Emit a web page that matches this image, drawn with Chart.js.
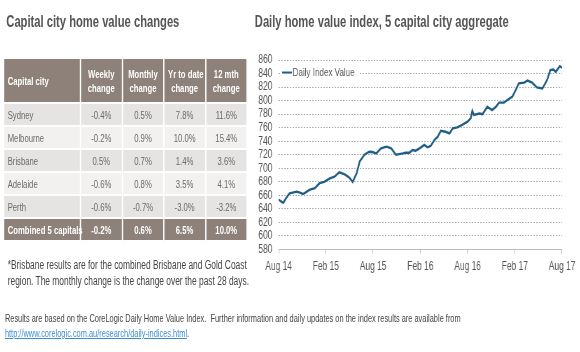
<!DOCTYPE html>
<html>
<head>
<meta charset="utf-8">
<title>Capital city home value changes</title>
<script src="https://cdn.jsdelivr.net/npm/chart.js@4"></script>
<style>
    body {
        margin: 0;
        width: 580px;
        height: 352px;
        position: relative;
        background: #fff;
        overflow: hidden;
    }

    /* the source picture is squeezed sideways, so lay out wide and squeeze the lot */
    .page {
        position: absolute;
        left: 0;
        top: 0;
        width: 829px;
        height: 352px;
        transform: scaleX(0.7);
        transform-origin: 0 0;
        font-family: 'Liberation Sans', Arial, sans-serif;
        color: #555;
    }

    .title {
        position: absolute;
        top: 13px;
        font-size: 16px;
        font-weight: bold;
        color: #555;
        white-space: nowrap;
    }

    .table_city {
        position: absolute;
        left: 4px;
        top: 57px;
        width: 350px;
        border-collapse: collapse;
        table-layout: fixed;
        font-size: 11px;
    }

    .table_city th,
    .table_city td {
        border: 2px solid #fff;
        padding: 0 5px;
        text-align: center;
        white-space: nowrap;
    }

    .table_city th {
        background: #8d8179;
        color: #fff;
        height: 43px;
        line-height: 14px;
    }

    .table_city td {
        height: 21px;
        color: #6a6a6a;
    }

    .table_city tr:nth-child(odd) td { background: #e5e4e2; }
    .table_city tr:nth-child(even) td { background: #f2f1f0; }

    .table_city .first { text-align: left; }

    .table_city tr.total td {
        background: #8d8179;
        color: #fff;
        font-weight: bold;
    }

    .note {
        position: absolute;
        left: 11px;
        top: 257px;
        font-size: 12px;
        line-height: 16px;
        color: #444;
        white-space: nowrap;
    }

    .source {
        position: absolute;
        left: 7px;
        top: 311px;
        font-size: 10.6px;
        line-height: 15px;
        color: #444;
        white-space: nowrap;
    }

    .source a { color: #3d8fd0; }

    .chart-wrapper {
        position: absolute;
        left: 357px;
        top: 40px;
        width: 471px;
        height: 275px;
    }
</style>
</head>
<body>
<div class="page">
    <div class="title" style="left:9px">Capital city home value changes</div>
    <div class="title" style="left:364px">Daily home value index, 5 capital city aggregate</div>

    <table class="table_city" id="cities">
        <colgroup>
            <col style="width:110px"><col><col><col><col>
        </colgroup>
        <thead>
            <tr>
                <th class="first">Capital city</th>
                <th>Weekly<br>change</th>
                <th>Monthly<br>change</th>
                <th>Yr to date<br>change</th>
                <th>12 mth<br>change</th>
            </tr>
        </thead>
        <tbody></tbody>
    </table>

    <div class="note">*Brisbane results are for the combined Brisbane and Gold Coast<br>region. The monthly change is the change over the past 28 days.</div>

    <div class="source">Results are based on the CoreLogic Daily Home Value Index.&nbsp; Further information and daily updates on the index results are available from<br><a href="#">http://www.corelogic.com.au/research/daily-indices.html</a>.</div>

    <div class="chart-wrapper"><canvas id="myChart"></canvas></div>
</div>

<script type="text/javascript">
    // table data
    let cities = ['Sydney', 'Melbourne', 'Brisbane', 'Adelaide', 'Perth', 'Combined 5 capitals'];
    let weekly = ['-0.4%', '-0.2%', '0.5%', '-0.6%', '-0.6%', '-0.2%'];
    let monthly = ['0.5%', '0.9%', '0.7%', '0.8%', '-0.7%', '0.6%'];
    let yearToDate = ['7.8%', '10.0%', '1.4%', '3.5%', '-3.0%', '6.5%'];
    let twelveMonth = ['11.6%', '15.4%', '3.6%', '4.1%', '-3.2%', '10.0%'];

    // index series, months counted from Aug 14
    let months = [0, 0.3, 0.6, 0.9, 1.2, 1.4, 2.3, 2.7, 3.1, 3.4, 3.9, 4.6, 5.2, 5.8, 6.5, 7.1, 7.7, 8.4, 9.0, 9.4,
        9.9, 10.3, 10.9, 11.5, 11.9, 12.4, 13.0, 13.7, 14.3, 14.9, 15.3, 15.8, 16.1, 16.6, 17.0, 17.4, 17.9,
        18.5, 18.9, 19.3, 19.8, 20.2, 20.6, 21.2, 21.7, 22.1, 22.7, 23.3, 24.0, 24.4, 24.6, 24.8, 25.5, 25.9,
        26.5, 27.1, 27.6, 28.0, 28.6, 29.3, 29.7, 30.1, 30.5, 31.2, 31.6, 32.2, 32.8, 33.5, 34.1, 34.5, 34.9,
        35.2, 35.7, 36.0];
    let indexValues = [654, 651, 649, 655, 660, 663, 665.5, 664, 662, 664, 668, 670.5, 678, 680, 685, 687.5, 694, 691, 686, 680,
        692.5, 710, 720, 724.5, 724, 722, 729.5, 732, 729.5, 720, 721, 722, 723, 723, 727, 726, 729.5,
        734.5, 731, 733, 742, 746.5, 755.5, 754, 751.5, 759, 760.5, 764, 769, 774, 785, 779, 781, 780,
        791, 786, 791, 797, 797, 803, 806, 815.5, 825.5, 826.5, 829.5, 826.5, 819.5, 818, 830.5, 845, 846,
        842.5, 851, 848.5];
    let tickLabels = ['Aug 14', 'Feb 15', 'Aug 15', 'Feb 16', 'Aug 16', 'Feb 17', 'Aug 17'];

    let tbody = document.querySelector('#cities tbody');
    cities.forEach(function (city, i) {
        let tr = document.createElement('tr');
        if (i == cities.length - 1) tr.className = 'total';
        tr.innerHTML = '<td class="first">' + city + '</td><td>' + weekly[i] + '</td><td>' + monthly[i] +
            '</td><td>' + yearToDate[i] + '</td><td>' + twelveMonth[i] + '</td>';
        tbody.appendChild(tr);
    });

    let fontFamily = "'Liberation Sans', Arial, sans-serif";

    // legend box sitting inside the plot, on top of the 840 gridline
    let insideLegend = {
        id: 'insideLegend',
        afterDatasetsDraw: function (chart) {
            let ctx = chart.ctx;
            let area = chart.chartArea;
            let y = chart.scales.y.getPixelForValue(840) - 1;
            ctx.save();
            ctx.font = '11.5px ' + fontFamily;
            let w = ctx.measureText('Daily Index Value').width;
            ctx.fillStyle = '#fff';
            ctx.fillRect(area.left + 2, y - 7, w + 24, 14);
            ctx.strokeStyle = '#1f5e87';
            ctx.lineWidth = 2;
            ctx.beginPath();
            ctx.moveTo(area.left + 5, y);
            ctx.lineTo(area.left + 19, y);
            ctx.stroke();
            ctx.fillStyle = '#555';
            ctx.textBaseline = 'middle';
            ctx.fillText('Daily Index Value', area.left + 20, y);
            ctx.restore();
        }
    };

    let ctx = document.getElementById('myChart').getContext('2d');
    let myChart = new Chart(ctx, {
        type: 'line',
        data: {
            datasets: [{
                label: 'Daily Index Value',
                data: months.map(function (m, i) { return { x: m, y: indexValues[i] }; }),
                borderColor: '#1f5e87',
                borderWidth: 2.4,
                pointRadius: 0,
                tension: 0
            }]
        },
        options: {
            responsive: true,
            maintainAspectRatio: false,
            animation: false,
            layout: { padding: { top: 20, right: 24, left: 0, bottom: 0 } },
            plugins: {
                legend: { display: false },
                tooltip: { enabled: false }
            },
            scales: {
                x: {
                    type: 'linear',
                    min: 0,
                    max: 36,
                    afterFit: function (scale) { scale.height = 65.5; },
                    grid: { drawOnChartArea: false, drawTicks: true, tickLength: 4, color: '#bbb' },
                    border: { color: '#bbb', width: 1 },
                    ticks: {
                        stepSize: 6,
                        padding: 6,
                        maxRotation: 0,
                        autoSkip: false,
                        color: '#555',
                        font: { family: fontFamily, size: 12 },
                        callback: function (value) { return tickLabels[value / 6]; }
                    }
                },
                y: {
                    min: 580,
                    max: 860,
                    afterFit: function (scale) { scale.width = 41; },
                    grid: { drawTicks: false, color: '#aaa', lineWidth: 1 },
                    border: { display: false, dash: [2, 2] },
                    ticks: {
                        stepSize: 20,
                        padding: 9,
                        autoSkip: false,
                        color: '#555',
                        font: { family: fontFamily, size: 12 }
                    }
                }
            }
        },
        plugins: [insideLegend]
    });
</script>
</body>
</html>
